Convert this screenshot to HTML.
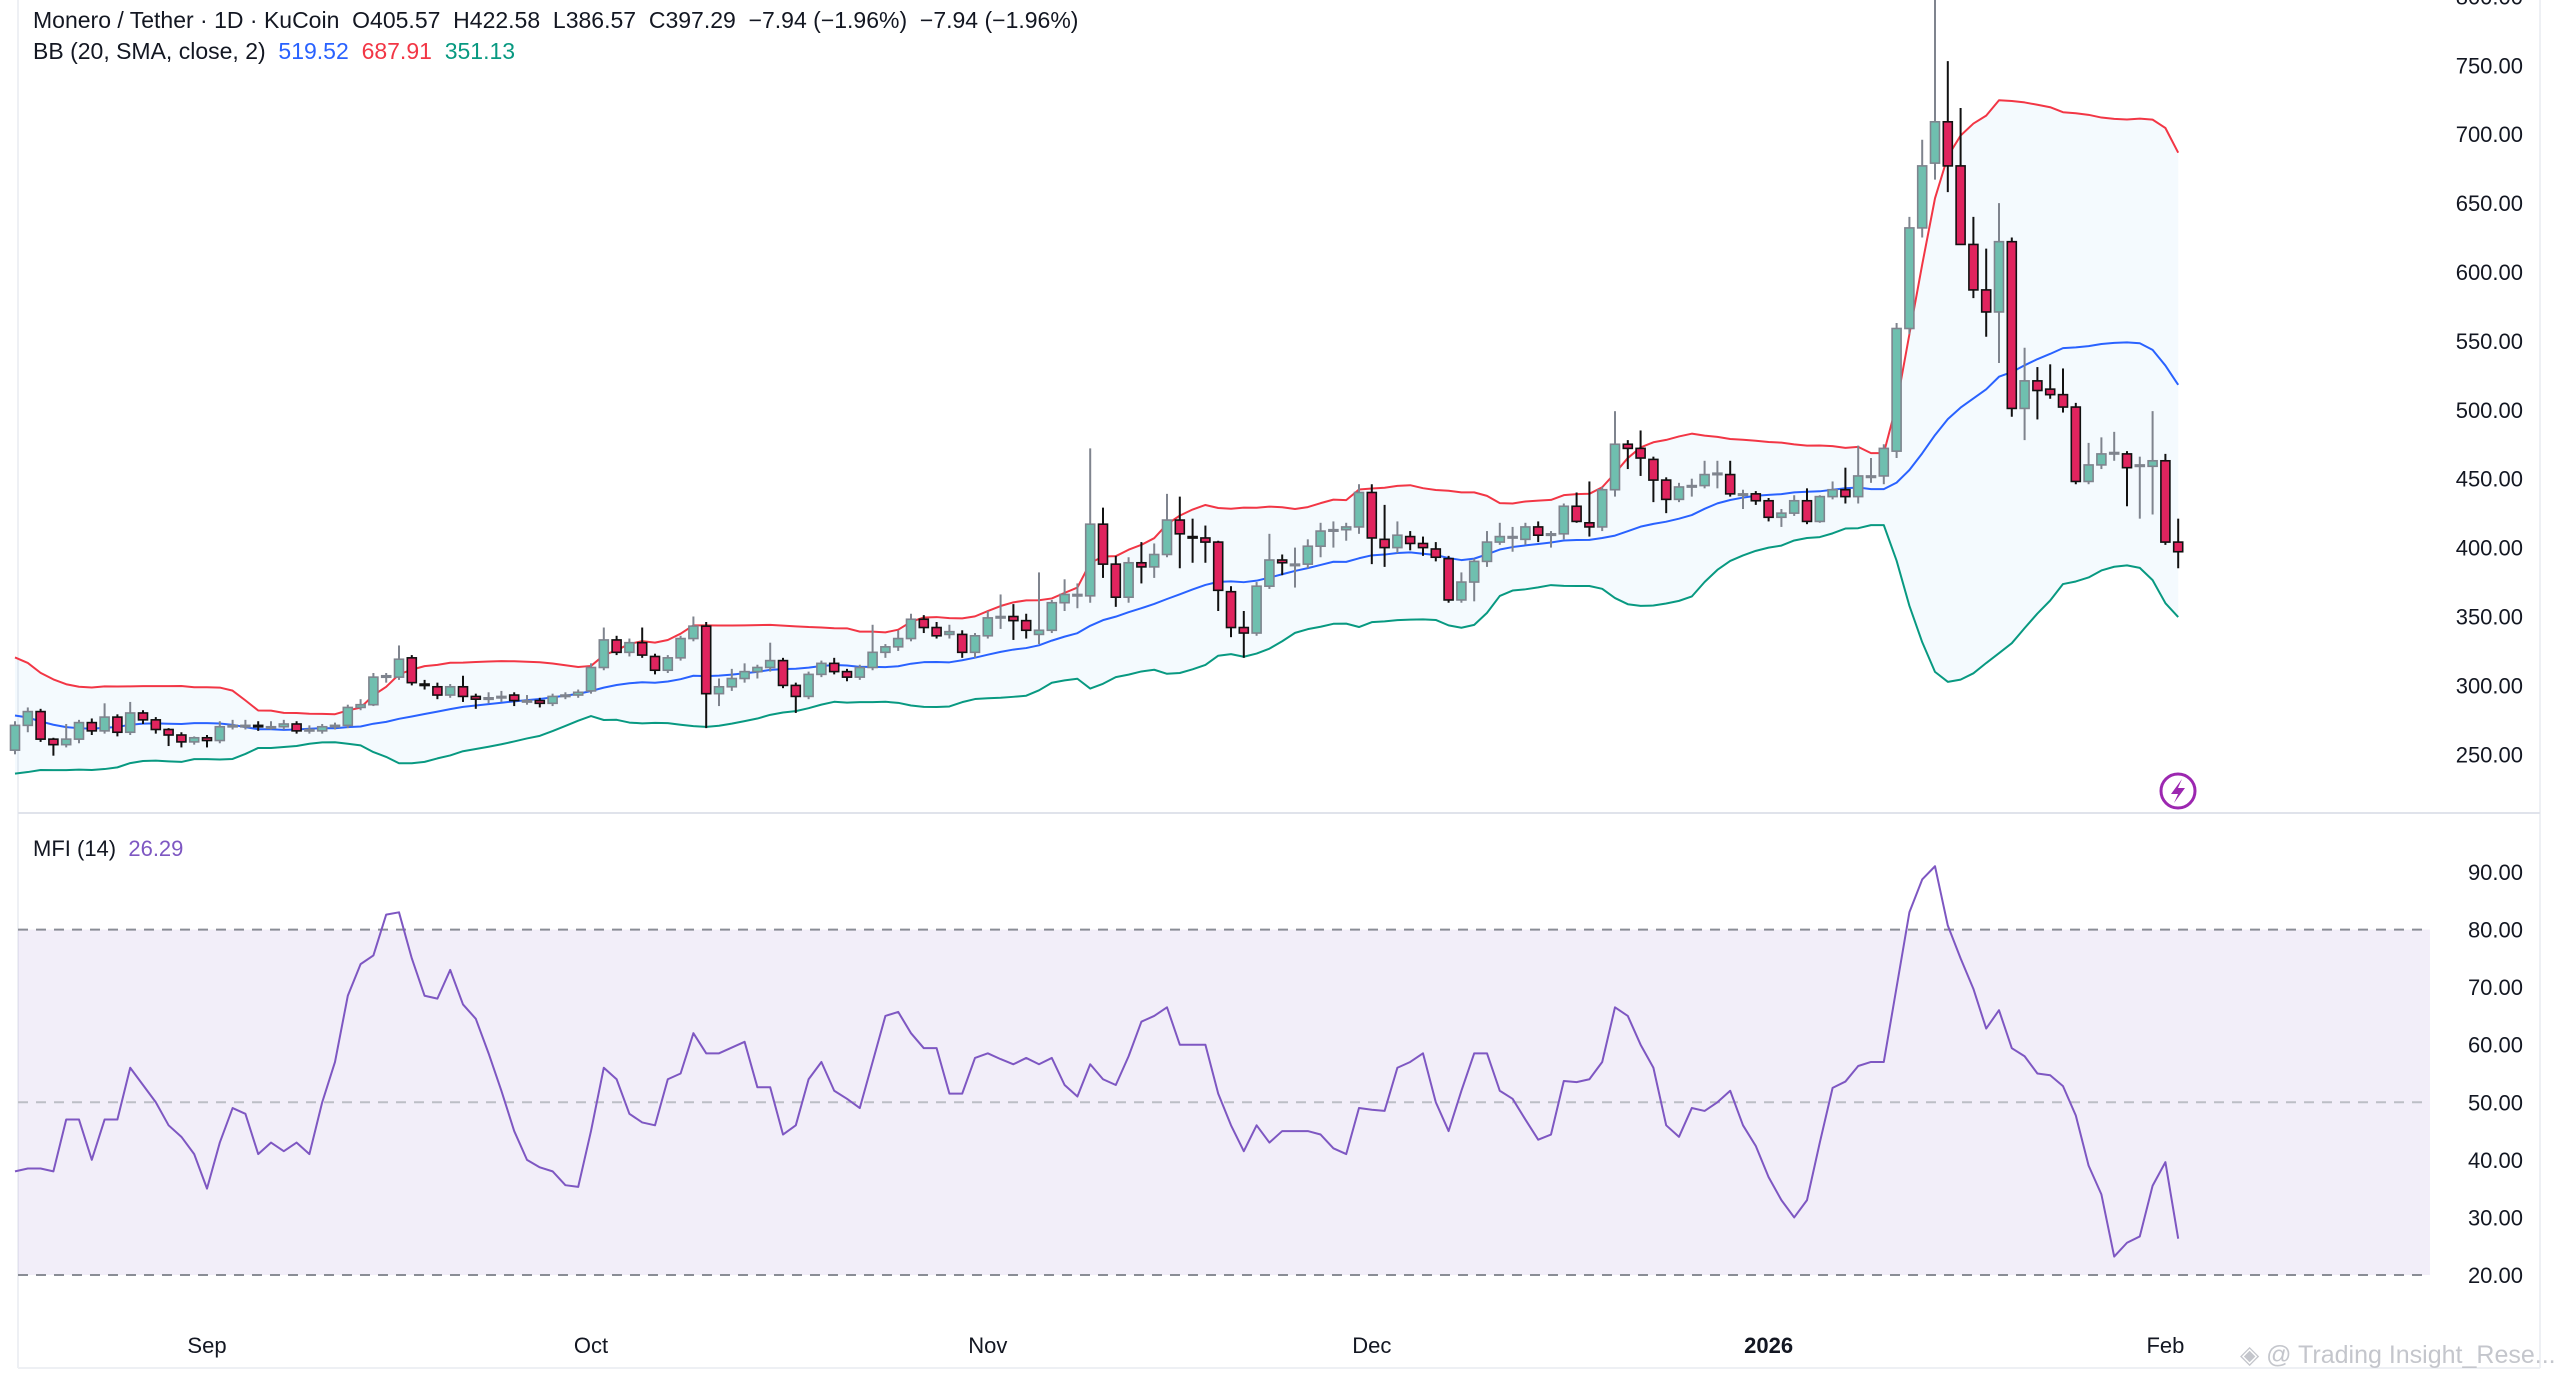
<!DOCTYPE html>
<html><head><meta charset="utf-8"><title>XMR/USDT chart</title>
<style>
html,body{margin:0;padding:0;background:#fff;}
body{width:2560px;height:1380px;overflow:hidden;font-family:"Liberation Sans",sans-serif;}
svg text{font-family:"Liberation Sans",sans-serif;}
</style></head>
<body>
<svg id="chart" width="2560" height="1380" viewBox="0 0 2560 1380" xmlns="http://www.w3.org/2000/svg">
  <rect x="0" y="0" width="2560" height="1380" fill="#ffffff"/>
  <line x1="18" y1="0" x2="18" y2="1368" stroke="#eef0f4" stroke-width="2"/>
  <line x1="2540" y1="0" x2="2540" y2="1368" stroke="#eef0f4" stroke-width="2"/>
  <line x1="18" y1="813" x2="2540" y2="813" stroke="#e0e3eb" stroke-width="2"/>
  <line x1="18" y1="1368" x2="2540" y2="1368" stroke="#eef0f4" stroke-width="2"/>
  <g id="bb"></g>
  <g id="candles"></g>
  <g id="mfi"></g>
  <g id="axes"></g>
  <text x="33" y="28" font-size="23" fill="#131722">Monero / Tether · 1D · KuCoin&#160; O405.57&#160; H422.58&#160; L386.57&#160; C397.29&#160; −7.94 (−1.96%)&#160; −7.94 (−1.96%)</text>
  <text x="33" y="59" font-size="23" fill="#131722">BB (20, SMA, close, 2)&#160; <tspan fill="#2962ff">519.52</tspan>&#160; <tspan fill="#f23645">687.91</tspan>&#160; <tspan fill="#089981">351.13</tspan></text>
  <text x="33" y="856" font-size="22" fill="#131722">MFI (14)&#160; <tspan fill="#7e57c2">26.29</tspan></text>
  <g>
    <circle cx="2178" cy="791" r="17" fill="#fff" stroke="#9c27b0" stroke-width="3"/>
    <path d="M2182 779 L2171 794 L2178 794 L2174 803 L2185 788 L2178 788 Z" fill="#9c27b0"/>
  </g>
  <text x="2240" y="1363" font-size="25" fill="#c4c6cc">◈ @ Trading Insight_Rese...</text>
</svg>
<script>
const opens=[253,271,281,261,257,261,273,267,277,266,280,275,268,264,259,262,260,270,271,271,270,270,272,267,267,270,271,284,286,306,306,320,301,299,293,299,292,291,292,293,289,289,287,292,293,296,313,333,324,331,321,311,320,334,343,294,299,305,310,313,318,300,292,308,316,310,306,313,324,328,334,348,342,337,337,324,336,349,350,347,337,340,360,366,365,417,388,364,389,386,395,420,408,407,404,368,342,338,372,391,388,388,401,412,413,415,440,406,400,408,403,399,392,362,375,390,404,408,406,415,410,410,430,418,415,442,475,472,464,449,435,445,445,454,453,439,439,434,422,425,434,419,437,442,437,452,452,470,559,632,679,709,677,620,587,571,622,501,521,515,511,502,448,460,469,468,460,459,463,404];
const highs=[274,284,283,262,272,275,276,287,279,288,282,277,269,266,263,264,274,275,275,274,274,275,274,271,272,273,286,290,309,309,329,322,304,302,301,307,294,295,296,295,293,291,294,295,297,316,342,336,334,342,323,322,336,350,346,305,312,316,315,331,320,302,310,318,320,312,315,344,330,340,352,351,346,344,340,338,354,366,359,352,382,362,377,374,472,429,394,393,404,403,439,437,421,416,405,372,354,375,410,395,400,406,418,419,418,446,446,431,419,412,408,404,394,382,392,412,418,415,418,419,412,432,440,448,444,499,478,485,466,451,447,450,463,463,463,442,441,436,428,438,443,438,448,458,474,465,475,563,640,696,805,753,719,640,617,650,625,545,531,533,530,505,476,480,484,470,466,499,468,421];
const lows=[250,266,259,249,255,258,264,265,263,264,272,265,256,255,257,255,258,268,268,267,268,268,265,265,265,268,269,282,285,302,304,300,297,290,291,288,283,287,288,285,286,284,285,290,291,294,311,322,321,320,308,309,318,332,269,285,296,302,305,310,298,280,290,306,308,303,304,311,320,325,332,338,334,334,320,320,334,341,333,334,330,338,354,356,360,378,357,360,374,378,393,385,389,389,354,335,320,336,370,380,371,385,393,400,405,410,388,386,396,398,394,390,360,360,361,386,402,397,402,404,400,406,418,408,412,437,457,452,433,425,433,437,443,443,437,428,431,419,415,423,417,418,435,432,432,447,446,465,555,625,667,658,620,581,553,534,495,478,493,508,498,446,446,457,463,430,421,424,402,385];
const closes=[271,281,261,257,261,273,267,277,266,280,275,268,264,259,262,260,270,271,271,270,270,272,267,268,270,271,284,286,306,307,319,302,300,293,299,292,290,291,292,289,289,287,292,293,295,313,333,324,331,322,311,320,334,343,294,299,305,310,313,318,300,292,308,316,310,306,313,324,328,334,348,342,336,339,324,336,349,350,347,340,340,360,366,366,417,388,364,389,386,395,420,410,407,404,369,342,338,372,391,389,388,401,412,413,415,440,407,400,409,403,400,393,362,375,390,404,408,408,415,409,410,430,419,415,442,475,472,465,449,435,444,445,453,454,439,439,434,422,425,434,419,437,442,437,452,452,472,559,632,677,709,677,620,587,571,622,501,521,514,511,502,448,460,468,469,458,460,463,404,397];
const priorCloses=[310,318,305,296,288,275,262,255,248,258,265,270,262,250,260,275,290,305,300];
const mfiValues=[38,38.5,38.5,38,47,47,40,47,47,56,53,50,46,44,41,35,43,49,48,41,43,41.5,43,41,50,57,68.5,74,75.5,82.6,83,75,68.5,68,73,67,64.5,58.5,52,45,40,38.7,38,35.6,35.3,45,56,54,48,46.5,46,54,55,62,58.5,58.5,59.5,60.5,52.6,52.6,44.4,46,54,57,52,50.6,49,57,65,65.7,62,59.4,59.4,51.5,51.5,57.7,58.5,57.5,56.6,57.7,56.6,57.7,53,51,56.6,54,53,58,64,65,66.5,60,60,60,51.5,46,41.5,46,43,45,45,45,44.4,42,41,49,48.7,48.5,56,57,58.5,50,45,52,58.5,58.5,52,50.6,47,43.5,44.4,53.7,53.5,54,57,66.5,65,60,56,46,44,49,48.5,50,52,46,42.4,37,33,30,33,43,52.5,53.6,56.3,57,57,70,83,88.7,91,80.7,75,69.7,62.8,66,59.4,58,55,54.7,52.8,47.7,39,34,23.2,25.6,26.7,35.5,39.6,26.3];
const priceTicks=[250,300,350,400,450,500,550,600,650,700,750,800];
const mfiTicks=[20,30,40,50,60,70,80,90];
const mfiLevels=[80,50,20];
const timeLabels=["Sep","Oct","Nov","Dec","2026","Feb"];
const timeLabelIndex=[15,45,76,106,137,168];

const NS="http://www.w3.org/2000/svg";
function xS(i){return 15+12.8*i;}
function yP(p){return 65.3+(750-p)*1.378;}
function yM(v){return 872+(90-v)*5.757;}
function mk(tag,attrs,parent){const e=document.createElementNS(NS,tag);for(const k in attrs)e.setAttribute(k,attrs[k]);parent.appendChild(e);return e;}

const all=priorCloses.concat(closes);
const up=[],mid=[],lo=[];
for(let i=0;i<closes.length;i++){
  const w=all.slice(i,i+20);
  const m=w.reduce((a,b)=>a+b,0)/w.length;
  const sd=Math.sqrt(w.reduce((a,b)=>a+(b-m)*(b-m),0)/w.length);
  mid.push(m);up.push(m+2*sd);lo.push(m-2*sd);
}
const bb=document.getElementById('bb');
let fillD="M"+up.map((v,i)=>xS(i)+","+yP(v)).join(" L")+" L"+lo.map((v,i)=>xS(i)+","+yP(v)).reverse().join(" L")+" Z";
const bf=mk('path',{d:fillD,fill:"rgba(33,150,243,0.05)",stroke:"none"},bb);


function line(arr,col,g,yf){
  return mk('polyline',{points:arr.map((v,i)=>xS(i)+","+yf(v)).join(" "),fill:"none",stroke:col,"stroke-width":2,"stroke-linejoin":"round"},g);
}
const lu=line(up,"#f23645",bb,yP);


const lm=line(mid,"#2962ff",bb,yP);


const ll=line(lo,"#089981",bb,yP);



const cg=document.getElementById('candles');
for(let i=0;i<closes.length;i++){
  const o=opens[i],c=closes[i],h=highs[i],l=lows[i];
  const upC=c>=o;
  const g=mk('g',{},cg);
  
  
  const stroke=upC?"#7f848e":"#111111";
  const fill=upC?"#6fbfaf":"#e0245e";
  const x=xS(i);
  mk('line',{x1:x,x2:x,y1:yP(h),y2:yP(l),stroke:stroke,"stroke-width":2},g);
  const top=yP(Math.max(o,c)),bot=yP(Math.min(o,c));
  mk('rect',{x:x-4.5,y:top,width:9,height:Math.max(bot-top,1.5),fill:fill,stroke:stroke,"stroke-width":1.6},g);
}

const mg=document.getElementById('mfi');
const band=mk('rect',{x:18,y:yM(mfiLevels[0]),width:2412,height:yM(mfiLevels[2])-yM(mfiLevels[0]),fill:"rgba(126,87,194,0.1)"},mg);


mfiLevels.forEach((lv,k)=>{
  const d=mk('line',{x1:18,x2:2430,y1:yM(lv),y2:yM(lv),stroke:k===1?"#bcbec6":"#8a8d96","stroke-width":2,"stroke-dasharray":"10,8"},mg);
  
  
});
const ml=line(mfiValues,"#7e57c2",mg,yM);



const ax=document.getElementById('axes');
priceTicks.forEach(t=>{
  const tx=mk('text',{x:2523,y:yP(t)+8,"font-size":22,fill:"#131722","text-anchor":"end"},ax);
  tx.textContent=t.toFixed(2);
  
  
});
mfiTicks.forEach(t=>{
  const tx=mk('text',{x:2523,y:yM(t)+8,"font-size":22,fill:"#131722","text-anchor":"end"},ax);
  tx.textContent=t.toFixed(2);
  
  
});
timeLabels.forEach((t,k)=>{
  const tx=mk('text',{x:xS(timeLabelIndex[k]),y:1353,"font-size":22,fill:"#131722","text-anchor":"middle","font-weight":t==="2026"?"bold":"normal"},ax);
  tx.textContent=t;
  
  
});
</script>
</body></html>
